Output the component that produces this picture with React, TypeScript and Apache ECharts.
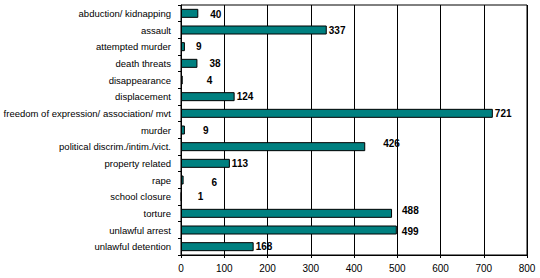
import React, { useEffect, useRef } from "react";
import * as echarts from "echarts";

const categories = [
  "abduction/ kidnapping",
  "assault",
  "attempted murder",
  "death threats",
  "disappearance",
  "displacement",
  "freedom of expression/ association/ mvt",
  "murder",
  "political discrim./intim./vict.",
  "property related",
  "rape",
  "school closure",
  "torture",
  "unlawful arrest",
  "unlawful detention",
];

const values = [40, 337, 9, 38, 4, 124, 721, 9, 426, 113, 6, 1, 488, 499, 168];

const xTicks = [0, 100, 200, 300, 400, 500, 600, 700, 800];

// label nudges (styling only), in pixels [dx, dy]
const labelNudge: [number, number][] = [
  [10, 1], [0, 0], [9, 0], [10, 0], [22, 0], [0, 0], [0, 0], [16, 0],
  [16, -3], [0, 0], [26, 2], [14, 0], [8, -3], [3, 1], [0, 0],
];

export default function App() {
  const ref = useRef<HTMLDivElement>(null);
  useEffect(() => {
    if (!ref.current) return;
    const chart = echarts.init(ref.current, undefined, { renderer: "svg" });
    const font = "Arial, 'Liberation Sans', sans-serif";
    chart.setOption({
      animation: false,
      backgroundColor: "#ffffff",
      grid: {
        left: 181,
        right: 13,
        top: 5,
        bottom: 23,
        containLabel: false,
        outerBoundsMode: "none",
        show: true,
        borderColor: "#000",
        borderWidth: 1,
      },
      xAxis: {
        type: "value",
        min: xTicks[0],
        max: xTicks[xTicks.length - 1],
        interval: 100,
        axisLine: { show: true, lineStyle: { color: "#000", width: 1 } },
        axisTick: { show: true, length: 3, lineStyle: { color: "#000" } },
        splitLine: { show: true, lineStyle: { color: "#000", width: 1 } },
        axisLabel: { color: "#000", fontSize: 10, fontFamily: font, margin: 8 },
      },
      yAxis: {
        type: "category",
        inverse: true,
        data: categories,
        axisLine: { show: true, lineStyle: { color: "#000", width: 1 } },
        axisTick: { show: true, length: 3, interval: 0, lineStyle: { color: "#000" } },
        axisLabel: { color: "#000", fontSize: 9.5, fontFamily: font, margin: 10, interval: 0 },
      },
      series: [
        {
          type: "bar",
          barWidth: 9,
          data: values.map((v, i) => ({
            value: v,
            label: { offset: labelNudge[i] },
          })),
          itemStyle: { color: "#008080", borderColor: "#000", borderWidth: 1 },
          label: {
            show: true,
            position: "right",
            distance: 2,
            color: "#000",
            fontWeight: "bold",
            fontSize: 10,
            fontFamily: font,
          },
        },
      ],
    });
    return () => chart.dispose();
  }, []);
  return (
    <div
      ref={ref}
      style={{ position: "fixed", left: 0, top: 0, width: 540, height: 278, background: "#fff" }}
    />
  );
}
